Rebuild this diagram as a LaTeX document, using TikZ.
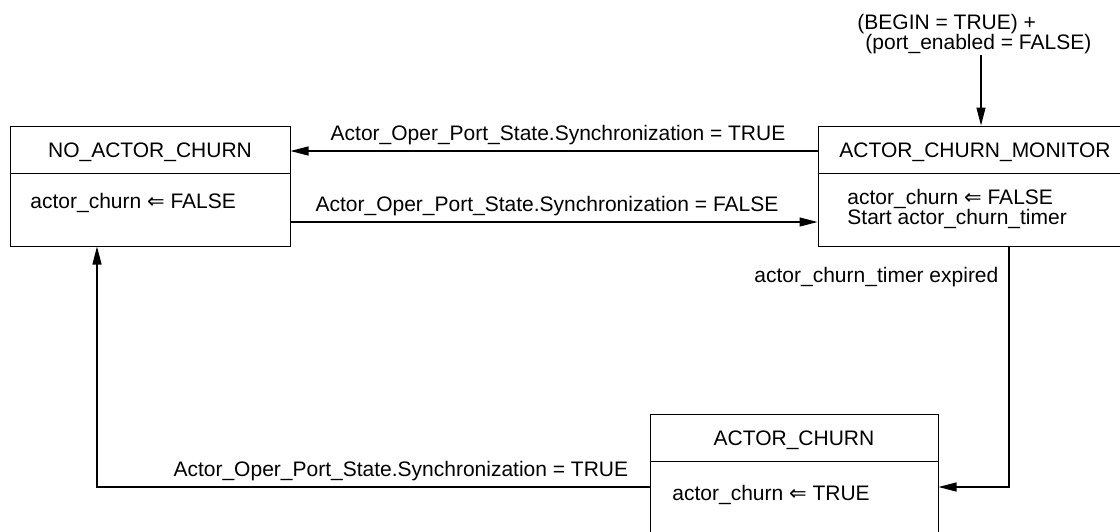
\documentclass[tikz,border=0pt]{standalone}
\usepackage{fontspec}
\setmainfont{Liberation Sans}
\newfontfamily\symfont{DejaVu Sans}
\usetikzlibrary{arrows.meta}
\newcommand{\getsarr}{{\symfont ⇐}}

\begin{document}
\begin{tikzpicture}[x=0.5pt,y=-0.5pt,
	every node/.style={font=\fontsize{10.5}{9.8}\selectfont, inner sep=0pt},
	statebox/.style={draw, line width=0.5pt, minimum width=#1, minimum height=60pt},
	arr/.style={line width=0.6pt, -{Triangle[length=9pt,width=4.5pt]}}]
	\useasboundingbox (0,0) rectangle (1120,531);
	\clip (0,0) rectangle (1120,531);
	% states
		\node[statebox=140pt] (noac) at (150,186) {};
		\node[statebox=157pt] (mon) at (975,186) {};
		\node[statebox=144pt] (ach) at (794,474) {};
		\draw[line width=0.5pt] ([yshift=-24pt]noac.north west) -- ([yshift=-24pt]noac.north east);
		\draw[line width=0.5pt] ([yshift=-24pt]mon.north west) -- ([yshift=-24pt]mon.north east);
		\draw[line width=0.5pt] ([yshift=-24pt]ach.north west) -- ([yshift=-24pt]ach.north east);
		\node (noactitle) at ([yshift=-13.5pt]noac.north) {NO\_ACTOR\_CHURN};
		\node (montitle) at ([yshift=-13.5pt]mon.north) {ACTOR\_CHURN\_MONITOR};
		\node (achtitle) at ([yshift=-13.5pt]ach.north) {ACTOR\_CHURN};
		\node[anchor=west] (noacbody) at (30,203) {actor\_churn \getsarr{} FALSE};
		\node[anchor=west, align=left] (monbody) at (847,209) {actor\_churn \getsarr{} FALSE\\Start actor\_churn\_timer};
		\node[anchor=west] (achbody) at (672,495) {actor\_churn \getsarr{} TRUE};
	% entry
		\coordinate (init) at (981,55);
		\node[anchor=west] (initA) at (857,24) {(BEGIN = TRUE) +};
		\node[anchor=west] (initB) at (865,44) {(port\_enabled = FALSE)};
		\draw[arr] (init) -- (init |- mon.north);
	% transitions
		\draw[arr] ([yshift=17.5pt]mon.west) -- node[above=3pt, xshift=2pt] (lbltrue) {Actor\_Oper\_Port\_State.Synchronization = TRUE} ([yshift=17.5pt]noac.east);
		\draw[arr] ([yshift=-18pt]noac.east) -- node[above=3pt, xshift=-3.5pt] (lblfalse) {Actor\_Oper\_Port\_State.Synchronization = FALSE} ([yshift=-18pt]mon.west);
		\draw[arr] ([xshift=17pt]mon.south) |- node[pos=0.064, left=5pt] (lblexp) {actor\_churn\_timer expired} ([yshift=-6.5pt]ach.east);
		\draw[arr] ([yshift=-6.5pt]ach.west) -| node[pos=0.225, above=3pt] (lblback) {Actor\_Oper\_Port\_State.Synchronization = TRUE} ([xshift=-26.5pt]noac.south);
\end{tikzpicture}
\end{document}
